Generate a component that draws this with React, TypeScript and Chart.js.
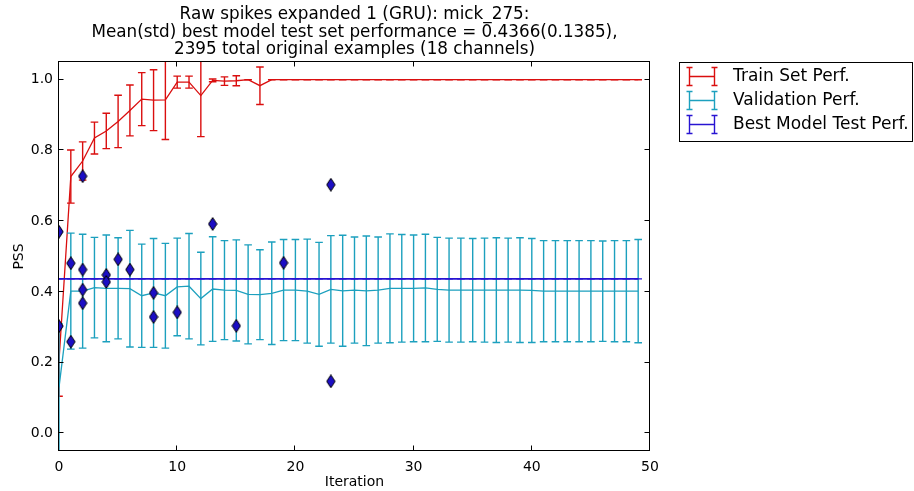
import React, { useEffect, useRef } from "react";
import { Chart, registerables } from "chart.js";

Chart.register(...registerables);

const FONT = "'DejaVu Sans', sans-serif";

const titleLines = [
  "Raw spikes expanded 1 (GRU): mick_275:",
  "Mean(std) best model test set performance = 0.4366(0.1385),",
  "2395 total original examples (18 channels)",
];

const xTicks = [0, 10, 20, 30, 40, 50];
const yTicks = [0.0, 0.2, 0.4, 0.6, 0.8, 1.0];

const iterations = [
  0, 1, 2, 3, 4, 5, 6, 7, 8, 9, 10, 11, 12, 13, 14, 15, 16, 17, 18, 19, 20, 21, 22, 23, 24,
  25, 26, 27, 28, 29, 30, 31, 32, 33, 34, 35, 36, 37, 38, 39, 40, 41, 42, 43, 44, 45, 46, 47, 48, 49,
];

const trainMean = [
  0.205, 0.726, 0.77, 0.835, 0.855, 0.882, 0.913, 0.945, 0.942, 0.943,
  0.993, 0.993, 0.955, 0.998, 0.996, 0.997, 1.0, 0.983, 1.0, 1.0,
  1.0, 1.0, 1.0, 1.0, 1.0, 1.0, 1.0, 1.0, 1.0, 1.0,
  1.0, 1.0, 1.0, 1.0, 1.0, 1.0, 1.0, 1.0, 1.0, 1.0,
  1.0, 1.0, 1.0, 1.0, 1.0, 1.0, 1.0, 1.0, 1.0, 1.0,
];
const trainStd = [
  0.1, 0.075, 0.054, 0.045, 0.05, 0.074, 0.072, 0.075, 0.086, 0.112,
  0.017, 0.017, 0.116, 0.004, 0.012, 0.014, 0.0, 0.053, 0.0, 0.0,
  0, 0, 0, 0, 0, 0, 0, 0, 0, 0,
  0, 0, 0, 0, 0, 0, 0, 0, 0, 0,
  0, 0, 0, 0, 0, 0, 0, 0, 0, 0,
];

const validMean = [
  0.13, 0.402, 0.402, 0.412, 0.41, 0.41, 0.409, 0.389, 0.397, 0.389,
  0.414, 0.416, 0.381, 0.408, 0.405, 0.404, 0.393, 0.392, 0.396, 0.405,
  0.405, 0.402, 0.393, 0.407, 0.403, 0.405, 0.403, 0.405, 0.41, 0.41,
  0.41, 0.411, 0.407, 0.405, 0.405, 0.405, 0.405, 0.405, 0.405, 0.405,
  0.404, 0.402, 0.402, 0.402, 0.402, 0.402, 0.402, 0.402, 0.402, 0.402,
];
const validStd = [
  0.18, 0.164, 0.161, 0.142, 0.151, 0.143, 0.165, 0.146, 0.154, 0.148,
  0.138, 0.149, 0.131, 0.148, 0.14, 0.143, 0.14, 0.127, 0.145, 0.143,
  0.143, 0.147, 0.147, 0.152, 0.157, 0.15, 0.155, 0.15, 0.154, 0.152,
  0.151, 0.152, 0.147, 0.147, 0.147, 0.146, 0.147, 0.148, 0.147, 0.148,
  0.147, 0.143, 0.143, 0.143, 0.143, 0.143, 0.142, 0.143, 0.143, 0.146,
];

const bestTestMean = 0.4366;
const bestTestStd = 0.0;

const foldIter = [0, 0, 1, 1, 2, 2, 2, 2, 4, 4, 5, 6, 8, 8, 10, 13, 15, 19, 23, 23];
const foldScore = [
  0.57, 0.303, 0.481, 0.259, 0.727, 0.463, 0.406, 0.368, 0.448, 0.428,
  0.492, 0.463, 0.397, 0.329, 0.342, 0.592, 0.304, 0.482, 0.703, 0.147,
];

const RED = "rgb(218,14,14)";
const CYAN = "rgb(28,160,190)";
const BLUE = "rgb(40,20,210)";
const DIAMOND_FILL = "rgb(28,14,196)";

function makeDiamond(): HTMLCanvasElement {
  const c = document.createElement("canvas");
  c.width = 10;
  c.height = 14;
  const g = c.getContext("2d")!;
  g.beginPath();
  g.moveTo(5, 0.6);
  g.lineTo(9.2, 7);
  g.lineTo(5, 13.4);
  g.lineTo(0.8, 7);
  g.closePath();
  g.fillStyle = DIAMOND_FILL;
  g.fill();
  g.strokeStyle = "#000";
  g.lineWidth = 1;
  g.stroke();
  return c;
}

const errorBarPlugin = {
  id: "errorBars",
  afterDatasetDraw(chart: any, args: any) {
    const ds = chart.data.datasets[args.index];
    const errs = ds.errorBars as number[] | undefined;
    if (!errs) return;
    const { ctx, chartArea, scales } = chart;
    const xs = scales.x;
    const ys = scales.y;
    ctx.save();
    ctx.beginPath();
    ctx.rect(chartArea.left, chartArea.top, chartArea.right - chartArea.left, chartArea.bottom - chartArea.top);
    ctx.clip();
    ctx.strokeStyle = ds.borderColor;
    ctx.lineWidth = 1.4;
    const half = 3.8;
    ds.data.forEach((p: any, i: number) => {
      const px = xs.getPixelForValue(p.x);
      const y1 = ys.getPixelForValue(p.y + errs[i]);
      const y2 = ys.getPixelForValue(p.y - errs[i]);
      ctx.beginPath();
      ctx.moveTo(px, y1);
      ctx.lineTo(px, y2);
      ctx.moveTo(px - half, y1);
      ctx.lineTo(px + half, y1);
      ctx.moveTo(px - half, y2);
      ctx.lineTo(px + half, y2);
      ctx.stroke();
    });
    ctx.restore();
  },
};

const framePlugin = {
  id: "frame",
  afterDraw(chart: any) {
    const { ctx, chartArea, scales } = chart;
    const { left, right, top, bottom } = chartArea;
    ctx.save();
    ctx.strokeStyle = "#000";
    ctx.lineWidth = 1;
    const L = Math.round(left) - 0.5;
    const R = Math.round(right) - 0.5;
    const T = Math.round(top) - 0.5;
    const B = Math.round(bottom) - 0.5;
    ctx.strokeRect(L, T, R - L, B - T);
    const tl = 5;
    ctx.beginPath();
    xTicks.forEach((v) => {
      const px = Math.round(scales.x.getPixelForValue(v)) - 0.5;
      ctx.moveTo(px, B);
      ctx.lineTo(px, B - tl);
      ctx.moveTo(px, T);
      ctx.lineTo(px, T + tl);
    });
    yTicks.forEach((v) => {
      const py = Math.round(scales.y.getPixelForValue(v)) - 0.5;
      ctx.moveTo(L, py);
      ctx.lineTo(L + tl, py);
      ctx.moveTo(R, py);
      ctx.lineTo(R - tl, py);
    });
    ctx.stroke();
    ctx.restore();
  },
};

const legendPlugin = {
  id: "customLegend",
  afterDraw(chart: any) {
    const { ctx } = chart;
    const items = chart.data.datasets
      .filter((d: any) => d.inLegend)
      .sort((a: any, b: any) => b.order - a.order);
    const boxL = 679.5;
    const boxT = 62.5;
    const boxW = 233;
    const rowH = 24;
    const boxH = 79;
    ctx.save();
    ctx.fillStyle = "#fff";
    ctx.fillRect(boxL, boxT, boxW, boxH);
    ctx.strokeStyle = "#000";
    ctx.lineWidth = 1;
    ctx.strokeRect(boxL, boxT, boxW, boxH);
    items.forEach((d: any, k: number) => {
      const cy = 76.5 + k * rowH;
      const x1 = 689.5;
      const x2 = 714.5;
      ctx.strokeStyle = d.borderColor;
      ctx.lineWidth = 1.4;
      ctx.beginPath();
      ctx.moveTo(x1, cy);
      ctx.lineTo(x2, cy);
      [x1, x2].forEach((xx) => {
        ctx.moveTo(xx, cy - 9);
        ctx.lineTo(xx, cy + 9);
        ctx.moveTo(xx - 3, cy - 9);
        ctx.lineTo(xx + 3, cy - 9);
        ctx.moveTo(xx - 3, cy + 9);
        ctx.lineTo(xx + 3, cy + 9);
      });
      ctx.stroke();
      ctx.fillStyle = "#000";
      ctx.font = `17px ${FONT}`;
      ctx.textBaseline = "middle";
      ctx.textAlign = "left";
      ctx.fillText(d.label, 733, cy);
    });
    ctx.restore();
  },
};

export default function App() {
  const ref = useRef<HTMLCanvasElement | null>(null);
  useEffect(() => {
    if (!ref.current) return;
    const diamond = makeDiamond();
    const chart = new Chart(ref.current, {
      type: "line",
      data: {
        datasets: [
          {
            type: "scatter",
            label: "",
            data: foldIter.map((x, i) => ({ x, y: foldScore[i] })),
            pointStyle: diamond as any,
            pointRadius: 6,
            showLine: false,
            order: 0,
          } as any,
          {
            label: "Best Model Test Perf.",
            data: iterations.map((x) => ({ x, y: bestTestMean })),
            errorBars: iterations.map(() => bestTestStd),
            borderColor: BLUE,
            borderWidth: 1.6,
            pointRadius: 0,
            fill: false,
            inLegend: true,
            order: 1,
          } as any,
          {
            label: "Validation Perf.",
            data: iterations.map((x, i) => ({ x, y: validMean[i] })),
            errorBars: validStd,
            borderColor: CYAN,
            borderWidth: 1.3,
            pointRadius: 0,
            fill: false,
            inLegend: true,
            order: 2,
          } as any,
          {
            label: "Train Set Perf.",
            data: iterations.map((x, i) => ({ x, y: trainMean[i] })),
            errorBars: trainStd,
            borderColor: RED,
            borderWidth: 1.3,
            pointRadius: 0,
            fill: false,
            inLegend: true,
            order: 3,
          } as any,
        ],
      },
      options: {
        animation: false,
        responsive: false,
        devicePixelRatio: 1,
        events: [],
        layout: { padding: { left: 0, right: 264, top: 0, bottom: 0 } },
        plugins: {
          legend: { display: false },
          tooltip: { enabled: false },
          title: {
            display: true,
            text: titleLines,
            fullSize: false,
            color: "#000",
            font: { family: FONT, size: 16.8, weight: "normal", lineHeight: "17.5px" },
            padding: { top: 6.25, bottom: 3.25 },
          },
        },
        scales: {
          x: {
            type: "linear",
            min: 0,
            max: 50,
            afterBuildTicks: (s: any) => {
              s.ticks = xTicks.map((v) => ({ value: v }));
            },
            afterFit: (s: any) => {
              s.height = 40;
            },
            grid: { display: true, drawOnChartArea: false, drawTicks: false },
            border: { display: false },
            ticks: {
              color: "#000",
              font: { family: FONT, size: 14 },
              padding: 7.5,
              maxRotation: 0,
              autoSkip: false,
              callback: (v: any) => String(v),
            },
            title: {
              display: true,
              text: "Iteration",
              color: "#000",
              font: { family: FONT, size: 14 },
              padding: { top: 0, bottom: 0.5 },
            },
          },
          y: {
            type: "linear",
            min: -0.05,
            max: 1.05,
            afterBuildTicks: (s: any) => {
              s.ticks = yTicks.map((v) => ({ value: v }));
            },
            afterFit: (s: any) => {
              s.width = 59;
            },
            grid: { display: true, drawOnChartArea: false, drawTicks: false },
            border: { display: false },
            ticks: {
              color: "#000",
              font: { family: FONT, size: 14 },
              padding: 6,
              autoSkip: false,
              callback: (v: any) => Number(v).toFixed(1),
            },
            title: {
              display: true,
              text: "PSS",
              color: "#000",
              font: { family: FONT, size: 14 },
              padding: { top: 11, bottom: 0 },
            },
          },
        },
      } as any,
      plugins: [errorBarPlugin, framePlugin, legendPlugin],
    });
    return () => chart.destroy();
  }, []);
  return (
    <div style={{ position: "absolute", left: 0, top: 0, width: 914, height: 491, background: "#fff" }}>
      <canvas ref={ref} width={914} height={491} style={{ display: "block" }} />
    </div>
  );
}
